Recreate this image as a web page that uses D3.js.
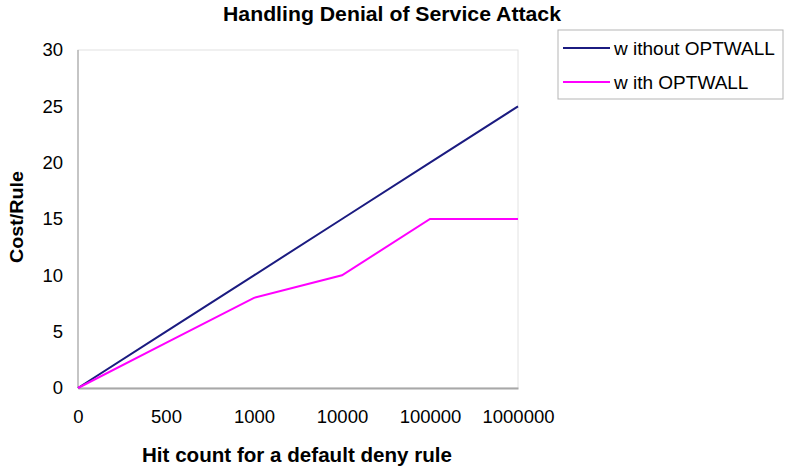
<!DOCTYPE html>
<html>
<head>
<meta charset="utf-8">
<script src="https://cdn.jsdelivr.net/npm/d3@7"></script>
<style>
  html, body { margin: 0; padding: 0; background: #fff; }
  svg { display: block; }
  text { font-family: Arial, "Liberation Sans", Helvetica, sans-serif; fill: #000; }
</style>
</head>
<body>
<svg id="chart" width="787" height="473"></svg>
<script>
// Hit counts along the x axis (categorical, evenly spaced)
const hitCounts = ["0", "500", "1000", "10000", "100000", "1000000"];
// Cost per rule for each configuration
const withoutOptwall = [0, 5, 10, 15, 20, 25];
const withOptwall = [0, 4, 8, 10, 15, 15];
const yTicks = [0, 5, 10, 15, 20, 25, 30];

const seriesList = [
  { name: "w ithout OPTWALL", values: withoutOptwall, color: "#1b1b80" },
  { name: "w ith OPTWALL", values: withOptwall, color: "#ff00ff" }
];

const svg = d3.select("#chart");
const plot = { left: 78, right: 518, top: 50, bottom: 388 };

const x = d3.scalePoint().domain(hitCounts).range([plot.left, plot.right]);
const y = d3.scaleLinear().domain([0, 30]).range([plot.bottom, plot.top]);

// Plot frame
svg.append("rect")
  .attr("x", plot.left).attr("y", plot.top)
  .attr("width", plot.right - plot.left).attr("height", plot.bottom - plot.top)
  .attr("fill", "none").attr("stroke", "#e2e2e2").attr("stroke-width", 1);

svg.append("line")
  .attr("x1", plot.left).attr("x2", plot.left)
  .attr("y1", plot.top).attr("y2", plot.bottom)
  .attr("stroke", "#9a9a9a").attr("stroke-width", 1);

// Y axis labels
const yAxis = d3.axisLeft(y).tickValues(yTicks).tickSize(0).tickPadding(15);
const gy = svg.append("g").attr("transform", `translate(${plot.left},0)`).call(yAxis);
gy.select(".domain").remove();
gy.selectAll("text")
  .style("font-size", "18.5px")
  .style("font-family", "Arial, 'Liberation Sans', sans-serif")
  .attr("fill", "#000");

// X axis labels
const xAxis = d3.axisBottom(x).tickSize(0).tickPadding(22);
const gx = svg.append("g").attr("transform", `translate(0,${plot.bottom})`).call(xAxis);
gx.select(".domain").attr("stroke", "#a8a8a8").attr("stroke-width", 2);
gx.selectAll("text")
  .style("font-size", "18.5px")
  .style("font-family", "Arial, 'Liberation Sans', sans-serif")
  .attr("fill", "#000");

// Series lines
const line = d3.line()
  .x((d, i) => x(hitCounts[i]))
  .y(d => y(d));

seriesList.forEach(s => {
  svg.append("path")
    .datum(s.values)
    .attr("d", line)
    .attr("fill", "none")
    .attr("stroke", s.color)
    .attr("stroke-width", 2);
});

// Title
svg.append("text")
  .attr("x", 392).attr("y", 21)
  .attr("text-anchor", "middle")
  .attr("textLength", 338).attr("lengthAdjust", "spacingAndGlyphs")
  .style("font-size", "19.5px").style("font-weight", "bold")
  .text("Handling Denial of Service Attack");

// Axis titles
svg.append("text")
  .attr("transform", "translate(23,217) rotate(-90)")
  .attr("text-anchor", "middle")
  .attr("textLength", 92).attr("lengthAdjust", "spacingAndGlyphs")
  .style("font-size", "19px").style("font-weight", "bold")
  .text("Cost/Rule");

svg.append("text")
  .attr("x", 297).attr("y", 462)
  .attr("text-anchor", "middle")
  .attr("textLength", 310).attr("lengthAdjust", "spacingAndGlyphs")
  .style("font-size", "19.5px").style("font-weight", "bold")
  .text("Hit count for a default deny rule");

// Legend
const legend = svg.append("g").attr("transform", "translate(558,30)");
legend.append("rect")
  .attr("width", 225).attr("height", 69)
  .attr("fill", "#fff").attr("stroke", "#b5b5b5").attr("stroke-width", 1);

seriesList.forEach((s, i) => {
  const row = legend.append("g").attr("transform", `translate(0,${18 + i * 34})`);
  row.append("line")
    .attr("x1", 5).attr("x2", 52)
    .attr("stroke", s.color).attr("stroke-width", 2);
  row.append("text")
    .attr("x", 56).attr("y", 7)
    .style("font-size", "19px")
    .text(s.name);
});
</script>
</body>
</html>
